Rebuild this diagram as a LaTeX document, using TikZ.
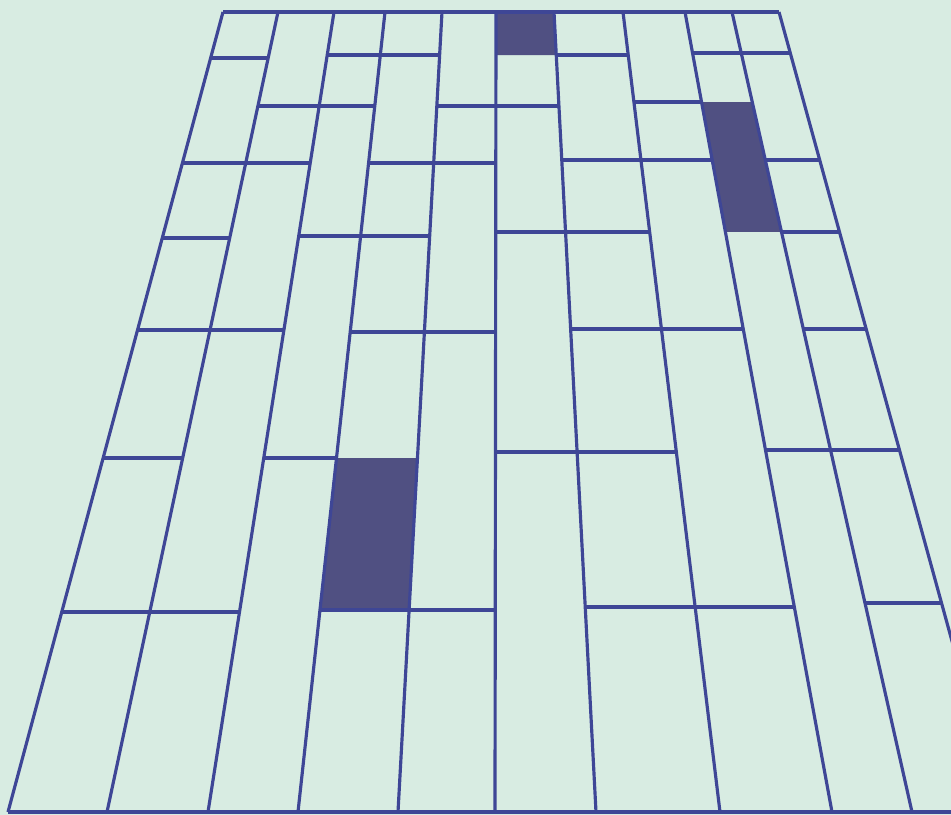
\documentclass[tikz,border=0pt]{standalone}
\usetikzlibrary{calc}
\definecolor{floorbg}{RGB}{216,236,226}
\definecolor{seamblue}{RGB}{62,70,150}
\definecolor{plankdark}{RGB}{80,80,130}
\tikzset{joint/.style = {draw = seamblue, line width = 1.8pt},
         darkplank/.style = {fill = plankdark}}
\begin{document}
\begin{tikzpicture}[x = .02cm, y = -.02cm]
      \useasboundingbox (0,0) rectangle (951,815);
      \fill [floorbg] (0,0) rectangle (951,815);
      \clip (0,0) rectangle (951,815);
      % long seams, top and bottom ends
      \foreach \i/\t/\b in {1/223/8, 2/278/107, 3/334/208, 4/385/298,
                            5/442/398, 6/496/495, 7/554/596, 8/623/720,
                            9/685/832, 10/732/912, 11/779/999} {
        \coordinate (t\i) at (\t,12);
        \coordinate (b\i) at (\b,812);
      }
      % dark planks
      \fill [darkplank] ($(t6)!0!(b6)$) -- ($(t7)!0!(b7)$)
        -- ($(t7)!.05375!(b7)$) -- ($(t6)!.05375!(b6)$) -- cycle;
      \fill [darkplank] ($(t9)!.1125!(b9)$) -- ($(t10)!.1125!(b10)$)
        -- ($(t10)!.275!(b10)$) -- ($(t9)!.275!(b9)$) -- cycle;
      \fill [darkplank] ($(t4)!.5575!(b4)$) -- ($(t5)!.5575!(b5)$)
        -- ($(t5)!.7475!(b5)$) -- ($(t4)!.7475!(b4)$) -- cycle;
      % plank ends
      \foreach \i/\j/\f in {1/2/.0575, 3/5/.05375, 7/8/.05375, 9/11/.05125,
                            2/4/.1175, 5/7/.1175, 8/9/.1125,
                            1/3/.18875, 4/6/.18875, 7/9/.185, 10/11/.185,
                            1/2/.2825, 3/5/.28, 6/8/.275, 10/11/.275,
                            1/3/.3975, 4/6/.4, 7/9/.39625, 10/11/.39625,
                            1/2/.5575, 3/4/.5575, 6/8/.55, 9/11/.5475,
                            1/3/.75, 4/6/.7475, 7/9/.74375, 10/11/.73875}
        \draw [joint] ($(t\i)!\f!(b\i)$) -- ($(t\j)!\f!(b\j)$);
      \foreach \i in {1,...,11}
        \draw [joint] (t\i) -- (b\i);
      \draw [joint] (t1) -- (t11);
      \draw [joint, line width = 2.6pt] (b1) -- (b11);
    \end{tikzpicture}
\end{document}
